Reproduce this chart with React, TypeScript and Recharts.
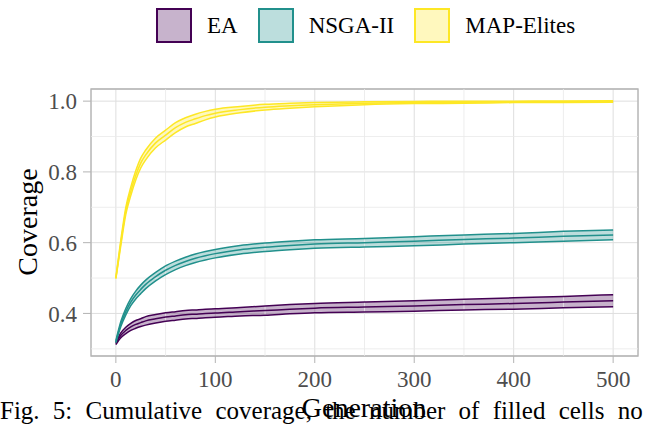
import {
  ComposedChart,
  Area,
  Line,
  XAxis,
  YAxis,
  CartesianGrid,
  ReferenceLine,
  ReferenceArea,
} from "recharts";

const generations = [0, 5, 10, 15, 20, 25, 30, 40, 50, 60, 70, 80, 90, 100, 125, 150, 175, 200, 250, 300, 350, 400, 450, 500];

const eaMean = [0.315, 0.338, 0.352, 0.362, 0.369, 0.374, 0.379, 0.385, 0.39, 0.393, 0.396, 0.398, 0.4, 0.401, 0.405, 0.408, 0.412, 0.415, 0.418, 0.421, 0.425, 0.428, 0.432, 0.436];
const eaHalf = [0.003, 0.007, 0.009, 0.01, 0.011, 0.011, 0.012, 0.012, 0.012, 0.012, 0.012, 0.012, 0.012, 0.012, 0.012, 0.013, 0.013, 0.013, 0.014, 0.015, 0.015, 0.016, 0.016, 0.017];

const nsgaMean = [0.32, 0.37, 0.405, 0.432, 0.452, 0.468, 0.482, 0.504, 0.522, 0.536, 0.547, 0.556, 0.563, 0.569, 0.58, 0.587, 0.592, 0.596, 0.6, 0.604, 0.609, 0.613, 0.618, 0.622];
const nsgaHalf = [0.003, 0.007, 0.009, 0.01, 0.011, 0.012, 0.012, 0.012, 0.0125, 0.012, 0.012, 0.012, 0.012, 0.012, 0.012, 0.012, 0.012, 0.012, 0.012, 0.013, 0.013, 0.013, 0.014, 0.014];

const mapMean = [0.5, 0.6, 0.69, 0.745, 0.79, 0.825, 0.848, 0.882, 0.904, 0.925, 0.94, 0.95, 0.959, 0.966, 0.976, 0.983, 0.987, 0.99, 0.994, 0.996, 0.997, 0.998, 0.9985, 0.999];
const mapHalf = [0.002, 0.008, 0.01, 0.012, 0.013, 0.014, 0.014, 0.014, 0.014, 0.014, 0.013, 0.013, 0.012, 0.011, 0.009, 0.008, 0.007, 0.006, 0.004, 0.003, 0.003, 0.002, 0.002, 0.002];

const xTicks = [0, 100, 200, 300, 400, 500];
const yTicks = [0.4, 0.6, 0.8, 1.0];
const xMinor = [50, 150, 250, 350, 450];
const yMinor = [0.3, 0.5, 0.7, 0.9];

const series = [
  { key: "ea", name: "EA", mean: eaMean, half: eaHalf, color: "#440154" },
  { key: "nsga", name: "NSGA-II", mean: nsgaMean, half: nsgaHalf, color: "#21908C" },
  { key: "map", name: "MAP-Elites", mean: mapMean, half: mapHalf, color: "#FDE725" },
];

const rows = generations.map((gen, i) => {
  const row: Record<string, number | number[]> = { gen };
  series.forEach((s) => {
    const lo = s.mean[i] - s.half[i];
    const hi = s.mean[i] + s.half[i];
    row[s.key] = s.mean[i];
    row[s.key + "Lo"] = lo;
    row[s.key + "Hi"] = hi;
    row[s.key + "Range"] = [lo, hi];
  });
  return row;
});

const FONT = '"Liberation Serif", "Times New Roman", serif';
const X_DOMAIN: [number, number] = [-25, 525];
const Y_DOMAIN: [number, number] = [0.2797, 1.0343];

function LegendBox() {
  return (
    <div
      style={{
        position: "absolute",
        left: 0,
        top: 0,
        display: "flex",
        alignItems: "center",
        height: 51,
        paddingLeft: 156,
        fontFamily: FONT,
        fontSize: 23,
        color: "#000",
      }}
    >
      {series.map((s) => (
        <div key={s.key} style={{ display: "flex", alignItems: "center", marginRight: 20 }}>
          <div
            style={{
              width: 36,
              height: 35,
              boxSizing: "border-box",
              border: `2px solid ${s.color}`,
              background: s.color,
              position: "relative",
              marginRight: 15,
            }}
          >
            <div style={{ position: "absolute", inset: 0, background: "rgba(255,255,255,0.7)" }} />
          </div>
          <span>{s.name}</span>
        </div>
      ))}
    </div>
  );
}

export default function App() {
  return (
    <div style={{ position: "absolute", left: 0, top: 0, width: 647, height: 425, background: "#fff", overflow: "hidden" }}>
      <ComposedChart width={647} height={425} data={rows} margin={{ top: 89, right: 9, bottom: 0, left: 0 }}>
        <CartesianGrid stroke="#dedede" strokeWidth={1} />
        {xMinor.map((v) => (
          <ReferenceLine key={"x" + v} x={v} stroke="#e8e8e8" strokeWidth={0.8} />
        ))}
        {yMinor.map((v) => (
          <ReferenceLine key={"y" + v} y={v} stroke="#e8e8e8" strokeWidth={0.8} />
        ))}
        <XAxis
          type="number"
          dataKey="gen"
          domain={X_DOMAIN}
          ticks={xTicks}
          allowDataOverflow
          height={69}
          tickSize={7}
          tickMargin={8}
          axisLine={false}
          tickLine={{ stroke: "#b3b3b3" }}
          tick={{ fill: "#4d4d4d", fontSize: 23, fontFamily: FONT }}
        />
        <YAxis
          type="number"
          domain={Y_DOMAIN}
          ticks={yTicks}
          allowDataOverflow
          width={91}
          tickSize={8}
          tickMargin={6}
          axisLine={false}
          tickLine={{ stroke: "#b3b3b3" }}
          tickFormatter={(v: number) => v.toFixed(1)}
          tick={{ fill: "#4d4d4d", fontSize: 23, fontFamily: FONT }}
        />
        {series.map((s) => (
          <Area
            key={s.key + "Range"}
            type="monotone"
            dataKey={s.key + "Range"}
            stroke="none"
            fill={s.color}
            fillOpacity={0.3}
            isAnimationActive={false}
          />
        ))}
        {series.flatMap((s) =>
          ["Lo", "", "Hi"].map((suffix) => (
            <Line
              key={s.key + suffix}
              type="monotone"
              dataKey={s.key + suffix}
              stroke={s.color}
              strokeWidth={1.5}
              dot={false}
              isAnimationActive={false}
            />
          ))
        )}
        <ReferenceArea
          x1={X_DOMAIN[0]}
          x2={X_DOMAIN[1]}
          y1={Y_DOMAIN[0]}
          y2={Y_DOMAIN[1]}
          fill="none"
          stroke="#b3b3b3"
          strokeWidth={1.3}
          ifOverflow="visible"
        />
      </ComposedChart>
      <LegendBox />
      <div
        style={{
          position: "absolute",
          left: 0,
          top: 395,
          width: 900,
          fontFamily: FONT,
          fontSize: 25,
          lineHeight: "32px",
          whiteSpace: "nowrap",
          wordSpacing: 7,
          color: "#000",
        }}
      >
        Fig. 5: Cumulative coverage, the number of filled cells no
      </div>
      <div
        style={{
          position: "absolute",
          left: 264,
          width: 200,
          top: 393,
          textAlign: "center",
          fontFamily: FONT,
          fontSize: 28,
          lineHeight: "30px",
          color: "#000",
        }}
      >
        Generation
      </div>
      <div
        style={{
          position: "absolute",
          left: 28 - 100,
          top: 222 - 15,
          width: 200,
          height: 30,
          lineHeight: "30px",
          textAlign: "center",
          transform: "rotate(-90deg)",
          fontFamily: FONT,
          fontSize: 28,
          color: "#000",
        }}
      >
        Coverage
      </div>
    </div>
  );
}
